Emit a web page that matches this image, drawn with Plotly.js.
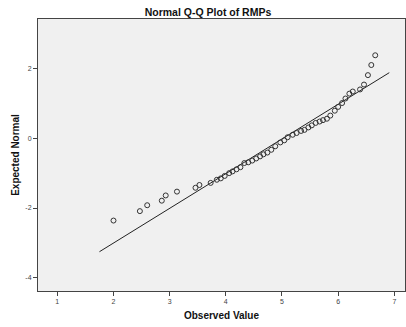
<!DOCTYPE html>
<html>
<head>
<meta charset="utf-8">
<script src="https://cdn.plot.ly/plotly-3.0.1.min.js"></script>
<style>html,body{margin:0;padding:0;background:#fff;}#chart{width:406px;height:327px;}</style>
</head>
<body>
<div id="chart"></div>
<script>
var observed = [2.00, 2.47, 2.60, 2.86, 2.93, 3.13, 3.46, 3.53, 3.73, 3.84, 3.91, 3.98, 4.06, 4.12, 4.19, 4.26, 4.33, 4.40, 4.47, 4.54, 4.61, 4.67, 4.74, 4.81, 4.88, 4.97, 5.04, 5.10, 5.19, 5.26, 5.34, 5.40, 5.47, 5.53, 5.60, 5.67, 5.73, 5.80, 5.86, 5.94, 6.00, 6.07, 6.13, 6.20, 6.26, 6.39, 6.46, 6.53, 6.59, 6.66];
var expected = [-2.36, -2.09, -1.92, -1.79, -1.64, -1.53, -1.42, -1.34, -1.28, -1.19, -1.15, -1.08, -1.00, -0.95, -0.89, -0.83, -0.71, -0.69, -0.64, -0.58, -0.52, -0.46, -0.41, -0.33, -0.23, -0.12, -0.06, 0.03, 0.10, 0.15, 0.21, 0.24, 0.31, 0.37, 0.44, 0.48, 0.52, 0.56, 0.65, 0.79, 0.90, 1.01, 1.14, 1.28, 1.34, 1.40, 1.54, 1.81, 2.10, 2.38];
var lineMean = 5.02;
var lineSD = 1.005;
var lineX = [1.75, 6.91];
var xTicks = [1, 2, 3, 4, 5, 6, 7];
var yTicks = [-4, -2, 0, 2];

var lineY = lineX.map(function (v) { return (v - lineMean) / lineSD; });
var font = "Liberation Sans, Arial, sans-serif";

var traces = [
  {x: lineX, y: lineY, mode: "lines", type: "scatter",
   line: {color: "#222", width: 1}, hoverinfo: "skip"},
  {x: observed, y: expected, mode: "markers", type: "scatter",
   marker: {symbol: "circle-open", size: 5, color: "#333", line: {width: 1, color: "#333"}}}
];

var layout = {
  width: 406, height: 327,
  margin: {l: 38, r: 1, t: 19, b: 36, pad: 0},
  paper_bgcolor: "#ffffff",
  plot_bgcolor: "#f0f0f0",
  showlegend: false,
  font: {family: font, color: "#222"},
  title: {text: "<b>Normal Q-Q Plot of RMPs</b>", font: {family: font, size: 10.5, color: "#111"},
          x: 208 / 406, xref: "container", xanchor: "center", y: 1 - 12 / 327, yref: "container", yanchor: "middle"},
  xaxis: {
    range: [0.656, 7.19], tickvals: xTicks, ticktext: xTicks.map(String),
    showgrid: false, zeroline: false, showline: true, linecolor: "#444", linewidth: 1, mirror: true,
    ticks: "outside", ticklen: 4, tickcolor: "#444", tickwidth: 1,
    tickfont: {family: font, size: 7, color: "#444"},
    title: {text: "<b>Observed Value</b>", font: {family: font, size: 10, color: "#111"}, standoff: 7}
  },
  yaxis: {
    range: [-4.38, 3.42], tickvals: yTicks, ticktext: yTicks.map(String),
    showgrid: false, zeroline: false, showline: true, linecolor: "#444", linewidth: 1, mirror: true,
    ticks: "outside", ticklen: 4, tickcolor: "#444", tickwidth: 1,
    tickfont: {family: font, size: 7, color: "#444"},
    title: {text: "<b>Expected Normal</b>", font: {family: font, size: 10, color: "#111"}, standoff: 3}
  }
};

Plotly.newPlot("chart", traces, layout, {staticPlot: true, displayModeBar: false});
</script>
</body>
</html>
